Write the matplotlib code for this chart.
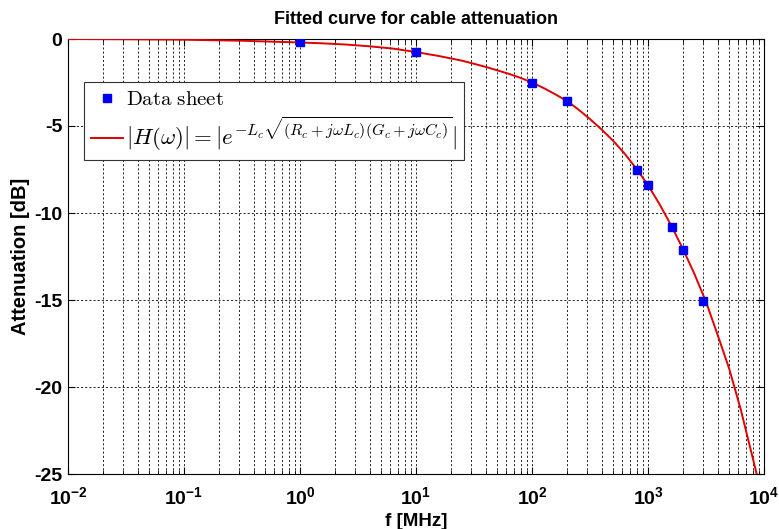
import matplotlib
matplotlib.use("Agg")
import matplotlib.pyplot as plt

# Data sheet points
data_f = [1, 10, 100, 200, 800, 1000, 1600, 2000, 3000]
data_db = [-0.2, -0.75, -2.5, -3.56, -7.5, -8.4, -10.82, -12.1, -15.08]

# Fitted curve
curve_f = [0.01, 0.0316, 0.1, 0.316, 1, 1.58, 2.51, 3.98, 6.31, 10, 15.8, 25.1,
           39.8, 63.1, 79.4, 100, 126, 158, 200, 251, 316, 398, 501, 631, 794,
           1000, 1259, 1585, 1995, 2512, 3162, 3981, 5012, 6310, 7943, 8650]
curve_db = [0.0, -0.015, -0.04, -0.1, -0.2, -0.25, -0.32, -0.42, -0.55, -0.75,
            -0.98, -1.25, -1.6, -2.0, -2.23, -2.5, -2.82, -3.17, -3.56, -4.05,
            -4.6, -5.2, -5.85, -6.6, -7.45, -8.4, -9.5, -10.72, -12.05, -13.5,
            -15.1, -17.0, -18.95, -21.3, -24.0, -25.0]

xtick_vals = [1e-2, 1e-1, 1e0, 1e1, 1e2, 1e3, 1e4]
xtick_labels = [r'$\mathregular{10^{-2}}$', r'$\mathregular{10^{-1}}$', r'$\mathregular{10^{0}}$',
                r'$\mathregular{10^{1}}$', r'$\mathregular{10^{2}}$', r'$\mathregular{10^{3}}$',
                r'$\mathregular{10^{4}}$']
ytick_vals = [0, -5, -10, -15, -20, -25]
ytick_labels = ['0', '-5', '-10', '-15', '-20', '-25']

title = 'Fitted curve for cable attenuation'
xlabel = 'f [MHz]'
ylabel = 'Attenuation [dB]'
leg_data = r'$\mathrm{Data\ sheet}$'
leg_fit = r'$|H(\omega)| = |e^{-L_c\sqrt{(R_c+j\omega L_c)(G_c+j\omega C_c)}}|$'

fam = ['Liberation Sans']

fig = plt.figure(figsize=(7.79, 5.29), dpi=100)
ax = fig.add_axes([68/779, 1-474/529, (764-68)/779, (474-39)/529])

ax.plot(curve_f, curve_db, color='#e00000', lw=1.4, zorder=3, label=leg_fit)
ax.plot(data_f, data_db, 's', color='#0000ee', ms=5.5, zorder=4, label=leg_data)

ax.set_xscale('log')
ax.set_xlim(1e-2, 1e4)
ax.set_ylim(-25, 0)

ax.grid(True, which='major', axis='both', color='black', ls=(0, (2.5, 2.5)), lw=0.6)
ax.grid(True, which='minor', axis='x', color='black', ls=(0, (2.5, 2.5)), lw=0.6)

ax.set_xticks(xtick_vals)
ax.set_xticklabels(xtick_labels, fontfamily=fam, fontweight='bold', fontsize=14)
ax.set_yticks(ytick_vals)
ax.set_yticklabels(ytick_labels, fontfamily=fam, fontweight='bold', fontsize=14)
ax.tick_params(which='both', direction='in', top=True, right=True)
ax.tick_params(which='major', length=5)
ax.tick_params(which='minor', length=3)
ax.tick_params(axis='x', which='major', pad=9)
ax.tick_params(axis='y', which='major', pad=4)

for s in ax.spines.values():
    s.set_linewidth(0.8)

ax.set_title(title, fontfamily=fam, fontweight='bold', fontsize=13, pad=11)
ax.set_xlabel(xlabel, fontfamily=fam, fontweight='bold', fontsize=13.5, labelpad=3)
ax.set_ylabel(ylabel, fontfamily=fam, fontweight='bold', fontsize=14.5, labelpad=3)

h, l = ax.get_legend_handles_labels()
leg = ax.legend([h[1], h[0]], [l[1], l[0]], loc='upper left',
                bbox_to_anchor=(0.023, 0.901), fontsize=15, fancybox=False,
                edgecolor='#333333', framealpha=1, borderpad=0.35,
                handlelength=1.5, handletextpad=0.15, labelspacing=0.25,
                borderaxespad=0)
leg.get_frame().set_linewidth(0.8)
texts = leg.get_texts()
for t in texts:
    t.set_math_fontfamily('cm')
texts[1].set_fontsize(16.5)

fig.savefig('out.png', dpi=100)
